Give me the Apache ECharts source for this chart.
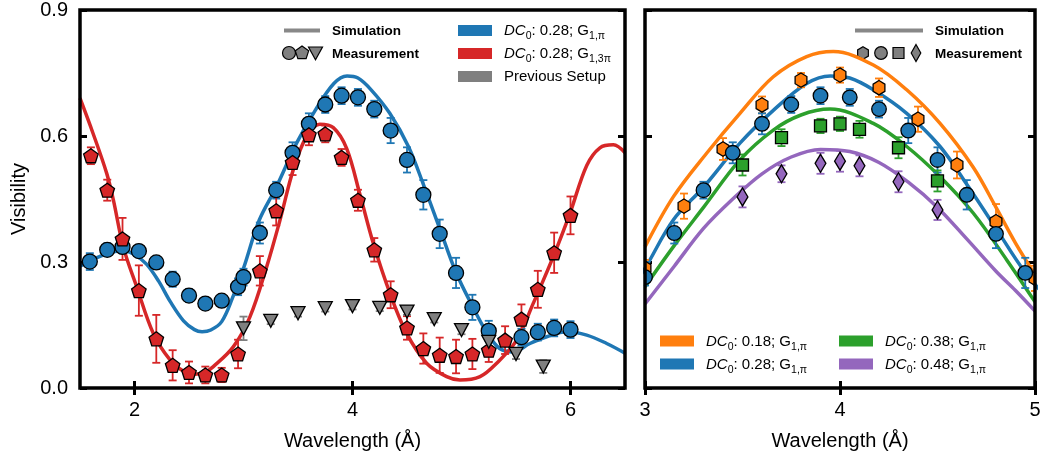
<!DOCTYPE html>
<html>
<head>
<meta charset="utf-8">
<script src="https://cdn.jsdelivr.net/npm/echarts@6/dist/echarts.min.js"></script>
<style>html,body{margin:0;padding:0;background:#fff}#c{width:1046px;height:459px}</style>
</head>
<body>
<div id="c"></div>
<script>
// ---------- DATA ----------
// Left panel: measured blue circles (DC0 0.28; G1,pi)
const blueX   = [1.59,1.75,1.89,2.04,2.2,2.35,2.5,2.65,2.8,2.95,3.0,3.15,3.3,3.45,3.6,3.75,3.9,4.05,4.2,4.35,4.5,4.65,4.8,4.95,5.1,5.25,5.55,5.7,5.85,6.0];
const blueY   = [0.301,0.329,0.336,0.326,0.299,0.259,0.220,0.201,0.208,0.241,0.264,0.369,0.471,0.560,0.629,0.675,0.696,0.692,0.664,0.613,0.543,0.460,0.367,0.274,0.192,0.136,0.121,0.133,0.143,0.139];
const blueErr = [0.02,0.015,0.015,0.012,0.012,0.018,0.015,0.01,0.01,0.02,0.02,0.025,0.02,0.025,0.025,0.02,0.02,0.02,0.02,0.03,0.03,0.035,0.034,0.036,0.03,0.024,0.02,0.02,0.02,0.02];
// Red pentagons (DC0 0.28; G1,3pi)
const redX   = [1.6,1.75,1.89,2.04,2.2,2.35,2.5,2.65,2.8,2.95,3.15,3.3,3.45,3.6,3.75,3.9,4.05,4.2,4.35,4.5,4.65,4.8,4.95,5.1,5.25,5.4,5.55,5.7,5.85,6.0];
const redY   = [0.553,0.471,0.355,0.232,0.117,0.054,0.037,0.031,0.031,0.081,0.279,0.422,0.537,0.603,0.605,0.549,0.447,0.329,0.222,0.143,0.094,0.078,0.075,0.081,0.090,0.114,0.164,0.235,0.322,0.411];
const redErr = [0.02,0.025,0.05,0.06,0.057,0.036,0.026,0.02,0.017,0.034,0.035,0.035,0.03,0.025,0.02,0.02,0.025,0.028,0.032,0.028,0.036,0.042,0.04,0.036,0.028,0.033,0.035,0.044,0.048,0.045];
// Gray triangles (previous setup)
const grayX   = [3.0,3.25,3.5,3.75,4.0,4.25,4.5,4.75,5.0,5.25,5.5,5.75];
const grayY   = [0.142,0.160,0.178,0.190,0.195,0.191,0.182,0.164,0.138,0.110,0.081,0.051];
const grayErr = [0.028,0.008,0.008,0.008,0.008,0.008,0.008,0.008,0.01,0.01,0.012,0.015];
// Simulation curves (x, y)
const blueSim = [[1.5,0.29],[1.65,0.31],[1.8,0.324],[1.9,0.326],[2.0,0.318],[2.11,0.295],[2.22,0.255],[2.33,0.205],[2.45,0.16],[2.55,0.139],[2.62,0.134],[2.7,0.138],[2.8,0.158],[2.9,0.215],[3.0,0.285],[3.145,0.40],[3.3,0.478],[3.487,0.583],[3.658,0.661],[3.829,0.725],[3.95,0.743],[4.05,0.738],[4.171,0.71],[4.342,0.654],[4.513,0.575],[4.65,0.485],[4.8,0.38],[4.95,0.275],[5.1,0.195],[5.23,0.133],[5.35,0.094],[5.475,0.086],[5.628,0.106],[5.782,0.122],[5.965,0.134],[6.149,0.126],[6.332,0.106],[6.5,0.083]];
const redSim = [[1.5,0.69],[1.62,0.606],[1.745,0.511],[1.806,0.448],[1.897,0.336],[2.02,0.241],[2.173,0.130],[2.326,0.067],[2.45,0.04],[2.55,0.033],[2.65,0.038],[2.723,0.051],[2.906,0.098],[3.06,0.17],[3.213,0.289],[3.335,0.40],[3.457,0.52],[3.58,0.600],[3.70,0.628],[3.824,0.620],[3.947,0.570],[4.069,0.46],[4.19,0.345],[4.344,0.225],[4.497,0.130],[4.68,0.059],[4.864,0.027],[4.986,0.019],[5.17,0.027],[5.323,0.059],[5.506,0.114],[5.659,0.202],[5.842,0.313],[5.995,0.416],[6.149,0.53],[6.27,0.572],[6.393,0.579],[6.5,0.56]];
const orangeSim = [[3.0,0.336],[3.145,0.455],[3.316,0.559],[3.487,0.654],[3.658,0.741],[3.829,0.789],[3.966,0.801],[4.171,0.769],[4.342,0.71],[4.513,0.63],[4.684,0.525],[4.8,0.43],[4.9,0.345],[5.0,0.27]];
const greenSim  = [[3.0,0.241],[3.145,0.336],[3.3,0.43],[3.487,0.543],[3.658,0.614],[3.8,0.65],[3.949,0.664],[4.171,0.63],[4.342,0.575],[4.513,0.503],[4.684,0.416],[4.855,0.305],[5.0,0.205]];
const purpleSim = [[3.0,0.20],[3.15,0.29],[3.3,0.38],[3.45,0.45],[3.6,0.51],[3.75,0.55],[3.9,0.568],[4.05,0.563],[4.2,0.537],[4.35,0.49],[4.5,0.43],[4.65,0.355],[4.8,0.278],[4.9,0.232],[5.0,0.183]];
// Right panel measurements
const orangeX   = [3.0,3.2,3.4,3.6,3.8,4.0,4.2,4.4,4.6,4.8,5.0];
const orangeY   = [0.285,0.433,0.569,0.674,0.733,0.745,0.715,0.640,0.531,0.396,0.261];
const orangeErr = [0.02,0.03,0.026,0.02,0.017,0.018,0.022,0.03,0.032,0.042,0.03];
const greenX   = [3.5,3.7,3.9,4.0,4.1,4.3,4.5];
const greenY   = [0.531,0.596,0.624,0.629,0.616,0.572,0.493];
const greenErr = [0.025,0.02,0.017,0.017,0.02,0.025,0.025];
const purpleX   = [3.5,3.7,3.9,4.0,4.1,4.3,4.5];
const purpleY   = [0.455,0.510,0.535,0.540,0.529,0.491,0.424];
const purpleErr = [0.025,0.02,0.025,0.025,0.025,0.025,0.024];
// Ticks
const leftXTicks = [2,4,6];
const rightXTicks = [3,4,5];

// ---------- STYLE ----------
const C = {blue:'#1f77b4', red:'#d62728', gray:'#7f7f7f', orange:'#ff7f0e', green:'#2ca02c', purple:'#9467bd'};
const FONT = "'Liberation Sans', 'DejaVu Sans', sans-serif";
const G0 = {left:80, top:10, width:545, height:378};
const G1 = {left:645, top:10, width:390, height:378};

const zip3 = (a,b,c) => a.map((v,i)=>[v,b[i],c[i]]);
const zip2 = (a,b) => a.map((v,i)=>[v,b[i]]);

function errRender(color){
  return function(params, api){
    const x=api.value(0), y=api.value(1), e=api.value(2);
    const p1=api.coord([x,y+e]), p2=api.coord([x,y-e]);
    const w=4, st={stroke:color, lineWidth:1.8, fill:null};
    return {type:'group', children:[
      {type:'line', shape:{x1:p1[0],y1:p1[1],x2:p2[0],y2:p2[1]}, style:st},
      {type:'line', shape:{x1:p1[0]-w,y1:p1[1],x2:p1[0]+w,y2:p1[1]}, style:st},
      {type:'line', shape:{x1:p2[0]-w,y1:p2[1],x2:p2[0]+w,y2:p2[1]}, style:st}
    ]};
  };
}
function errSeries(xi, yi, data, color){
  return {type:'custom', xAxisIndex:xi, yAxisIndex:yi, data:data, renderItem:errRender(color), encode:{x:0,y:1}, clip:true, z:3, silent:true};
}
function lineSeries(xi, yi, data, color, z){
  return {type:'line', xAxisIndex:xi, yAxisIndex:yi, data:data, showSymbol:false, smooth:0.35, lineStyle:{color:color, width:3.5}, itemStyle:{color:color}, z:z||2, clip:true, silent:true};
}
function scatterSeries(xi, yi, data, color, symbol, size, extra){
  return Object.assign({type:'scatter', xAxisIndex:xi, yAxisIndex:yi, data:data, symbol:symbol, symbolSize:size,
    itemStyle:{color:color, borderColor:'#000', borderWidth:1.3, opacity:1}, z:5, clip:true, silent:true}, extra||{});
}
const PENT = 'path://M0,-10 L9.51,-3.09 L5.88,8.09 L-5.88,8.09 L-9.51,-3.09 Z';

const pentPts = [[0,-10],[9.51,-3.09],[5.88,8.09],[-5.88,8.09],[-9.51,-3.09]];
const hexPts  = [[0,-10],[8.66,-5],[8.66,5],[0,10],[-8.66,5],[-8.66,-5]];
const triPts  = [[-10,-8],[10,-8],[0,9]];
const diaPts  = [[0,-10],[6,0],[0,10],[-6,0]];
const sqPts   = [[-6,-6],[6,-6],[6,6],[-6,6]];

// custom marker series (clipped by the frame, like the reference)
function markerSeries(xi, yi, data, color, kind, scale){
  return {type:'custom', xAxisIndex:xi, yAxisIndex:yi, data:data, encode:{x:0,y:1}, clip:true, z:5, silent:true,
    renderItem:function(params, api){
      const p = api.coord([api.value(0), api.value(1)]);
      const st = {fill:color, stroke:'#000', lineWidth:1.3};
      if (kind === 'circle') return {type:'circle', shape:{cx:p[0], cy:p[1], r:7.3}, style:st};
      const pts = {hex:hexPts, sq:sqPts, dia:diaPts}[kind];
      return {type:'polygon', shape:{points:pts.map(q=>[p[0]+q[0]*scale[0], p[1]+q[1]*scale[1]])}, style:st};
    }};
}

function xAx(gi, pos, min, max, ticks, showLabel, name){
  return {type:'value', gridIndex:gi, position:pos, min:min, max:max,
    axisLine:{show:false}, splitLine:{show:false},
    axisTick:{show:true, inside:true, length:7, customValues:ticks, lineStyle:{color:'#000', width:3}},
    axisLabel:{show:showLabel, customValues:ticks, margin:12, fontSize:20, color:'#000', fontFamily:FONT},
    name:name||'', nameLocation:'middle', nameGap:43, nameTextStyle:{fontSize:20, color:'#000', fontFamily:FONT}};
}
function yAx(gi, pos, showLabel, name){
  return {type:'value', gridIndex:gi, position:pos, min:0, max:0.9, interval:0.3,
    axisLine:{show:false}, splitLine:{show:false},
    axisTick:{show:true, inside:true, length:7, lineStyle:{color:'#000', width:3}},
    axisLabel:{show:showLabel, margin:12, fontSize:20, color:'#000', fontFamily:FONT, formatter:v=>v.toFixed(1)},
    name:name||'', nameLocation:'middle', nameGap:47, nameTextStyle:{fontSize:20, color:'#000', fontFamily:FONT}};
}

// ---------- LEGEND GRAPHICS ----------
const richDC = {
  i:{fontSize:15, fontStyle:'italic', fontFamily:FONT, lineHeight:22, fill:'#000'},
  n:{fontSize:15, fontFamily:FONT, lineHeight:22, fill:'#000'},
  s:{fontSize:10.5, fontFamily:FONT, lineHeight:10, verticalAlign:'bottom', fill:'#000'}
};
function dcLabel(dc, g){ return '{i|DC}{s|0}{n|: ' + dc + '; G}{s|' + g + '}'; }
function rectItem(x, y, color){ return {type:'rect', shape:{x:x, y:y-5.5, width:34, height:11}, style:{fill:color}}; }
function textItem(x, y, txt, rich, bold){
  return {type:'text', x:x, y:y, style:{text:txt, rich:rich, fontSize:bold?13.5:15, fontWeight:bold?'bold':'normal', fontFamily:FONT, fill:'#000', verticalAlign:'middle', align:'left'}};
}
function polyItem(cx, cy, pts, sx, sy, color){
  return {type:'polygon', shape:{points:pts.map(p=>[cx+p[0]*sx, cy+p[1]*sy])}, style:{fill:color, stroke:'#000', lineWidth:1.2}};
}

const graphics = [
  // left panel legend 1
  {type:'line', shape:{x1:284,y1:30.5,x2:320,y2:30.5}, style:{stroke:'#888', lineWidth:4}},
  textItem(332, 31, 'Simulation', null, true),
  {type:'circle', shape:{cx:289, cy:53, r:6.5}, style:{fill:'#808080', stroke:'#000', lineWidth:1.2}},
  polyItem(302, 53, pentPts, 0.7, 0.7, '#808080'),
  polyItem(315.5, 53, triPts, 0.7, 0.75, '#808080'),
  textItem(332, 54, 'Measurement', null, true),
  // left panel legend 2
  rectItem(458, 30.5, C.blue),  textItem(504, 31, dcLabel('0.28','1,π'), richDC),
  rectItem(458, 53.5, C.red),   textItem(504, 54, dcLabel('0.28','1,3π'), richDC),
  rectItem(458, 76.5, C.gray),  textItem(504, 77, 'Previous Setup', null),
  // right panel legend top
  {type:'line', shape:{x1:855,y1:30.5,x2:923,y2:30.5}, style:{stroke:'#888', lineWidth:4}},
  textItem(935, 31, 'Simulation', null, true),
  polyItem(863, 53, hexPts, 0.62, 0.62, '#808080'),
  {type:'circle', shape:{cx:881, cy:53, r:6.3}, style:{fill:'#808080', stroke:'#000', lineWidth:1.2}},
  {type:'rect', shape:{x:893, y:47.5, width:11, height:11}, style:{fill:'#808080', stroke:'#000', lineWidth:1.2}},
  polyItem(916, 53, diaPts, 0.8, 0.85, '#808080'),
  textItem(935, 54, 'Measurement', null, true),
  // right panel legend bottom
  rectItem(660, 341, C.orange), textItem(706, 342, dcLabel('0.18','1,π'), richDC),
  rectItem(660, 364, C.blue),   textItem(706, 365, dcLabel('0.28','1,π'), richDC),
  rectItem(839, 341, C.green),  textItem(885, 342, dcLabel('0.38','1,π'), richDC),
  rectItem(839, 364, C.purple), textItem(885, 365, dcLabel('0.48','1,π'), richDC)
];

// ---------- OPTION ----------
const option = {
  animation:false,
  backgroundColor:'#fff',
  grid:[Object.assign({show:true, borderColor:'#000', borderWidth:3.5, backgroundColor:'rgba(0,0,0,0)', z:10}, G0),
        Object.assign({show:true, borderColor:'#000', borderWidth:3.5, backgroundColor:'rgba(0,0,0,0)', z:10}, G1)],
  xAxis:[
    xAx(0,'bottom',1.5,6.5,leftXTicks,true,'Wavelength (Å)'),
    xAx(0,'top',1.5,6.5,leftXTicks,false),
    xAx(1,'bottom',3,5,rightXTicks,true,'Wavelength (Å)'),
    xAx(1,'top',3,5,rightXTicks,false)
  ],
  yAxis:[
    yAx(0,'left',true,'Visibility'),
    yAx(0,'right',false),
    yAx(1,'left',false),
    yAx(1,'right',false)
  ],
  graphic:graphics,
  series:[
    // left panel
    lineSeries(0,0,blueSim,C.blue,2),
    lineSeries(0,0,redSim,C.red,2),
    errSeries(0,0,zip3(blueX,blueY,blueErr),C.blue),
    errSeries(0,0,zip3(redX,redY,redErr),C.red),
    errSeries(0,0,zip3(grayX,grayY,grayErr),C.gray),
    scatterSeries(0,0,zip2(blueX,blueY),C.blue,'circle',15),
    scatterSeries(0,0,zip2(redX,redY),C.red,PENT,[14.5,14]),
    scatterSeries(0,0,zip2(grayX,grayY),C.gray,'triangle',[14,13],{symbolRotate:180}),
    // right panel
    lineSeries(2,2,orangeSim,C.orange,2),
    lineSeries(2,2,blueSim,C.blue,2),
    lineSeries(2,2,greenSim,C.green,2),
    lineSeries(2,2,purpleSim,C.purple,2),
    errSeries(2,2,zip3(orangeX,orangeY,orangeErr),C.orange),
    errSeries(2,2,zip3(blueX,blueY,blueErr),C.blue),
    errSeries(2,2,zip3(greenX,greenY,greenErr),C.green),
    errSeries(2,2,zip3(purpleX,purpleY,purpleErr),C.purple),
    markerSeries(2,2,zip2(orangeX,orangeY),C.orange,'hex',[0.68,0.72]),
    markerSeries(2,2,zip2(blueX,blueY),C.blue,'circle'),
    markerSeries(2,2,zip2(greenX,greenY),C.green,'sq',[1,1]),
    markerSeries(2,2,zip2(purpleX,purpleY),C.purple,'dia',[0.9,0.9])
  ]
};
const chart = echarts.init(document.getElementById('c'));
chart.setOption(option);
</script>
</body>
</html>
